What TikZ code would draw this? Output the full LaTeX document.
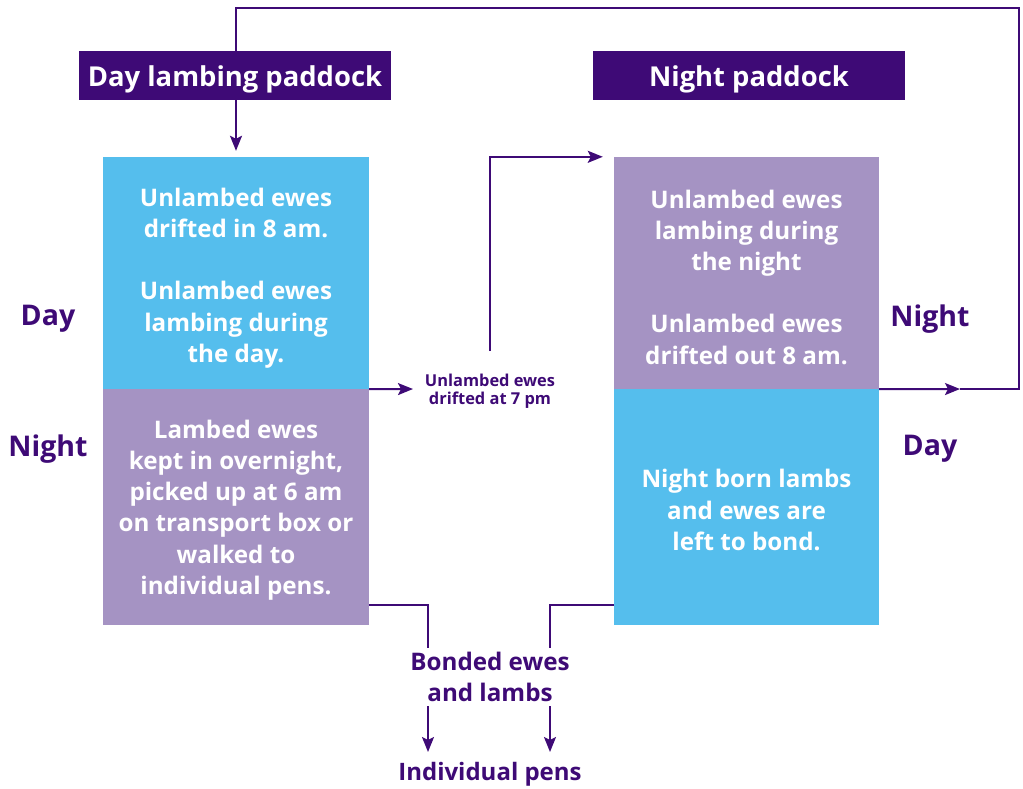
\documentclass[tikz,border=0pt]{standalone}
\usepackage{fontspec}
\setmainfont{Open Sans}
\usepackage{tikz}
\usetikzlibrary{arrows.meta}
\definecolor{hdrpurple}{RGB}{62,10,118}
\definecolor{dayblue}{RGB}{85,190,237}
\definecolor{nightpurple}{RGB}{165,147,195}
\tikzset{>={Stealth[length=15pt,width=12pt,inset=3pt]}}
\tikzset{
  flow/.style={draw=hdrpurple, line width=2pt},
  header/.style={fill=hdrpurple, text=white, minimum width=312pt, minimum height=49pt, inner sep=0pt, font=\bfseries\fontsize{27.4}{30}\selectfont},
  paddock/.style={minimum width=266pt, minimum height=234pt, inner sep=0pt},
  boxtext/.style={text=white, align=center, inner sep=0pt, font=\bfseries\fontsize{24.2}{31.2}\selectfont},
  sidelabel/.style={text=hdrpurple, font=\bfseries\fontsize{28.5}{30}\selectfont},
  note/.style={text=hdrpurple, align=center, inner sep=0pt}
}

\begin{document}
\begin{tikzpicture}[x=1pt, y=-1pt]
        \useasboundingbox (0,0) rectangle (1023,788);
        % paddock boxes
        \node[paddock, fill=dayblue, minimum height=232pt] (dayTop) at (236,273) {};
        \node[paddock, fill=nightpurple, minimum height=236pt] (dayBot) at (236,507) {};
        \node[paddock, fill=nightpurple, minimum width=265pt, minimum height=232pt] (nightTop) at (746.5,273) {};
        \node[paddock, fill=dayblue, minimum width=265pt, minimum height=236pt] (nightBot) at (746.5,507) {};
        \node[boxtext] (dayTopTxt) at ([yshift=-5pt]dayTop.center) {Unlambed ewes\\drifted in 8 am.\\[31.2pt]Unlambed ewes\\lambing during\\the day.};
        \node[boxtext] (dayBotTxt) at ([yshift=-3pt]dayBot.center) {Lambed ewes\\kept in overnight,\\picked up at 6 am\\on transport box or\\walked to\\individual pens.};
        \node[boxtext] (nightTopTxt) at ([yshift=-4pt]nightTop.center) {Unlambed ewes\\lambing during\\the night\\[31.2pt]Unlambed ewes\\drifted out 8 am.};
        \node[boxtext] (nightBotTxt) at ([yshift=-3pt]nightBot.center) {Night born lambs\\and ewes are\\left to bond.};
        % loop back to the day paddock
        \coordinate (loopmid) at (960,389);
        \coordinate (loopcorner) at (1019,8);
        \draw[flow, ->] (nightTop.south east) -- (loopmid);
        \draw[flow, ->, shorten >=6pt] (loopmid) -| (loopcorner) -| (dayTop.north);
        % headers
        \node[header] (dayHdr) at (235,75.5) {};
        \node[header] (nightHdr) at (749,75.5) {};
        \node[header, fill=none, minimum width=0pt, minimum height=0pt] (dayHdrTxt) at ([yshift=-4pt]dayHdr.center) {Day lambing paddock};
        \node[header, fill=none, minimum width=0pt, minimum height=0pt] (nightHdrTxt) at ([yshift=-4pt]nightHdr.center) {Night paddock};
        % side labels
        \node[sidelabel] (dayL) at (48,319) {Day};
        \node[sidelabel] (nightL) at (48,449) {Night};
        \node[sidelabel] (nightR) at (930,319) {Night};
        \node[sidelabel] (dayR) at (930,449) {Day};
        % evening drift
        \node[note, font=\bfseries\fontsize{16.4}{17.5}\selectfont] (drift) at (490,391) {Unlambed ewes\\drifted at 7 pm};
        \coordinate (driftin) at (413,389);
        \coordinate (driftup) at (490,351);
        \draw[flow, ->] (dayTop.south east) -- (driftin);
        \draw[flow, ->, shorten >=11pt] (driftup) |- (nightTop.north west);
        % bonded ewes to pens
        \node[note, font=\bfseries\fontsize{24.2}{31}\selectfont] (bonded) at (490,677) {Bonded ewes\\and lambs};
        \node[note, font=\bfseries\fontsize{24}{25}\selectfont] (pens) at (490,774) {Individual pens};
        \coordinate (bondL) at (428,648);
        \coordinate (bondR) at (550,648);
        \coordinate (penL) at (428,706);
        \coordinate (penR) at (550,706);
        \draw[flow] ([yshift=20pt]dayBot.south east) -| (bondL);
        \draw[flow] ([yshift=20pt]nightBot.south west) -| (bondR);
        \draw[flow, ->] (penL) -- (penL |- 0,752);
        \draw[flow, ->] (penR) -- (penR |- 0,752);
    \end{tikzpicture}
\end{document}
